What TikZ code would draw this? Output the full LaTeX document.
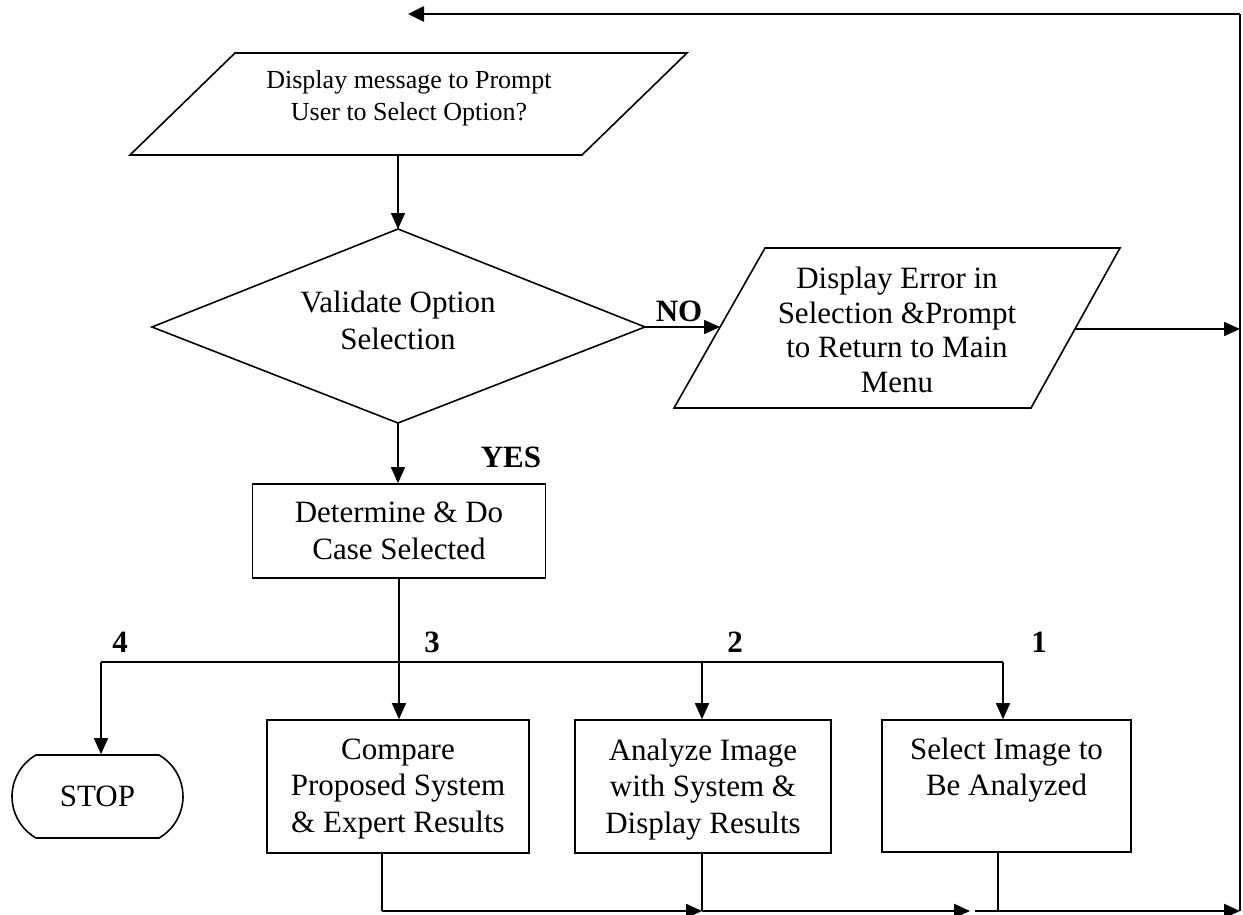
\documentclass[tikz,border=0pt]{standalone}
\usepackage{fontspec}
\setmainfont{Liberation Serif}
\usetikzlibrary{arrows.meta,positioning,shapes.misc}
\newcommand\tightlines{\lineskiplimit -20pt\relax}

\begin{document}
\begin{tikzpicture}[x=0.5pt,y=-0.5pt,
  outline/.style={draw,line width=0.8pt,line join=miter},
  plain/.style={line width=0.8pt},
  flow/.style={line width=0.8pt,-{Triangle[length=8pt,width=7pt]}},
  ret/.style={line width=1.1pt},
  rettip/.style={line width=1.1pt,-{Triangle[length=8pt,width=7pt]}},
  toptip/.style={line width=1.3pt,-{Triangle[length=8pt,width=7.5pt]}},
  procbox/.style={outline,rectangle,inner sep=0pt},
  bigtext/.style={align=center,inner sep=0pt,
    font=\fontsize{15.5}{18.4}\selectfont\tightlines},
  smalltext/.style={align=center,inner sep=0pt,
    font=\fontsize{13}{16}\selectfont\tightlines},
  branchlbl/.style={inner sep=0pt,font=\fontsize{15.5}{18}\selectfont\bfseries}]

\useasboundingbox (0,0) rectangle (1243,915);

% input: prompt for an option
\draw[outline] (130,155) -- (582,155) -- (687,53) -- (235,53) -- cycle;
\node[smalltext] (prompt) at (409,98) {Display message to Prompt\\User to Select Option?};
\coordinate (promptB) at (398,155);

% decision
\draw[outline] (152,327) -- (398,229) -- (645,327) -- (398,423) -- cycle;
\node[bigtext,font=\fontsize{15.5}{18.6}\selectfont\tightlines] (valid) at (398,320) {Validate Option\\Selection};
\coordinate (validT) at (398,229);
\coordinate (validB) at (398,423);
\coordinate (validR) at (645,327);

% error output
\draw[outline] (674,408) -- (1031,408) -- (1120,248) -- (765,248) -- cycle;
\node[bigtext,font=\fontsize{15.5}{17.35}\selectfont\tightlines] (error) at (897,330)
  {Display Error in\\Selection \&Prompt\\to Return to Main\\Menu};
\coordinate (errorL) at (720,327);
\coordinate (errorR) at (1075,329);

% case dispatch
\node[procbox,minimum width=146.5pt,minimum height=47pt,bigtext] (case) at (399,531)
  {Determine \& Do\\Case Selected};

% branch bar
\coordinate (br4) at (101,662);
\coordinate (br3) at (399,662);
\coordinate (br2) at (702,662);
\coordinate (br1) at (1003,662);

% terminal and actions
\node[draw,line width=0.8pt,rounded rectangle,rounded rectangle arc length=120,
  minimum width=85.5pt,minimum height=41.5pt,inner sep=0pt,
  font=\fontsize{15.5}{18}\selectfont] (stop) at (97.5,796.5) {STOP};
\node[procbox,minimum width=131pt,minimum height=66.5pt] (cmp) at (398,786.5) {};
\node[procbox,minimum width=128pt,minimum height=66.5pt] (ana) at (703,786.5) {};
\node[procbox,minimum width=124.5pt,minimum height=66pt] (sel) at (1006.5,786) {};
\node[bigtext,below=9.5pt of cmp.north] (cmpt) {Compare\\Proposed System\\\& Expert Results};
\node[bigtext,below=9.5pt of ana.north] (anat) {Analyze Image\\with System \&\\Display Results};
\node[bigtext,below=9pt of sel.north] (selt) {Select Image to\\Be Analyzed};

% return path
\coordinate (r1) at (382,911);
\coordinate (r2) at (702,911);
\coordinate (r2e) at (970,911);
\coordinate (r3) at (998,911);
\coordinate (r3s) at (975,911);
\coordinate (rc) at (1240,911);
\coordinate (rt) at (1240,14);
\coordinate (rm) at (1240,329);
\coordinate (topend) at (408,14);

% connectors
\draw[flow] (promptB) -- (validT);
\draw[flow] (validR) -- (errorL);
\draw[flow] (validB) -- (case.north -| validB);
\draw[flow] (errorR) -- (rm);
\draw[flow] (case.south -| br3) -- (cmp.north -| br3);
\draw[plain] (br4) -- (br1);
\draw[flow] (br4) -- (stop.north -| br4);
\draw[flow] (br2) -- (ana.north -| br2);
\draw[flow] (br1) -- (sel.north -| br1);

\draw[plain] (cmp.south -| r1) -- (r1);
\draw[plain] (ana.south -| r2) -- (r2);
\draw[plain] (sel.south -| r3) -- (r3);
\draw[rettip] (r1) -- (r2);
\draw[rettip] (r2) -- (r2e);
\draw[rettip] (r3s) -- (rc);
\draw[plain] (rc) -- (rt);
\draw[toptip] (rt) -- (topend);

% labels
\node[branchlbl] (no) at (679,311) {NO};
\node[branchlbl] (yes) at (511,457) {YES};
\node[branchlbl] (l4) at (120,642) {4};
\node[branchlbl] (l3) at (432,642) {3};
\node[branchlbl] (l2) at (735,642) {2};
\node[branchlbl] (l1) at (1039,642) {1};
\end{tikzpicture}
\end{document}
